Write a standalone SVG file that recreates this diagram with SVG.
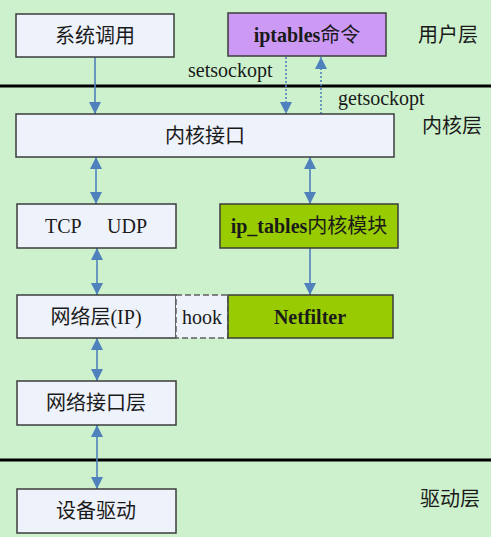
<svg xmlns="http://www.w3.org/2000/svg" width="491" height="537" viewBox="0 0 491 537">
<style>
text{font-family:"Liberation Serif","Noto Sans CJK SC",serif;font-size:20px;fill:#1a1a1a}
.c{text-anchor:middle}
.b{font-weight:bold}
.n{font-weight:normal}
.box{fill:#eef2fb;stroke:#3c3c3c;stroke-width:1.5}
.purple{fill:#cc99f5;stroke:#3c3c3c;stroke-width:1.5}
.green{fill:#99cc00;stroke:#3c3c3c;stroke-width:1.5}
.hook{fill:#eef2fb;stroke:#606060;stroke-width:1.5;stroke-dasharray:6,3}
.sep{stroke:#000;stroke-width:3}
.ar{stroke:#4f81bd;stroke-width:1.6;fill:none}
.dash{stroke-dasharray:2,2}
</style>
<defs>
<marker id="ah" markerUnits="userSpaceOnUse" markerWidth="12" markerHeight="12" viewBox="0 0 10 10" refX="10" refY="5" orient="auto-start-reverse">
<path d="M0,0 L10,5 L0,10 z" fill="#4f81bd"/>
</marker>
</defs>
<rect x="0" y="0" width="491" height="537" fill="#cdf1cd"/>
<line class="sep" x1="0" y1="86" x2="491" y2="86"/>
<line class="sep" x1="0" y1="460" x2="491" y2="460"/>
<g id="layer-labels">
<text x="418" y="42">用户层</text>
<text x="422" y="133">内核层</text>
<text x="420" y="506">驱动层</text>
</g>
<g id="connectors">
<line class="ar" x1="95" y1="57" x2="95" y2="114" marker-end="url(#ah)"/>
<line class="ar dash" x1="286" y1="57" x2="286" y2="114" marker-end="url(#ah)"/>
<line class="ar dash" x1="321" y1="114" x2="321" y2="57" marker-end="url(#ah)"/>
<line class="ar" x1="96" y1="157" x2="96" y2="204" marker-start="url(#ah)" marker-end="url(#ah)"/>
<line class="ar" x1="310" y1="157" x2="310" y2="204" marker-start="url(#ah)" marker-end="url(#ah)"/>
<line class="ar" x1="310" y1="248" x2="310" y2="295" marker-end="url(#ah)"/>
<line class="ar" x1="97" y1="248" x2="97" y2="295" marker-start="url(#ah)" marker-end="url(#ah)"/>
<line class="ar" x1="97" y1="338" x2="97" y2="381" marker-start="url(#ah)" marker-end="url(#ah)"/>
<line class="ar" x1="97" y1="425" x2="97" y2="489" marker-start="url(#ah)" marker-end="url(#ah)"/>
<text x="188" y="77">setsockopt</text>
<text x="338" y="105">getsockopt</text>
</g>
<g id="syscall">
<rect class="box" x="16" y="14" width="158" height="43"/>
<text class="c" x="95" y="42.5">系统调用</text>
</g>
<g id="iptables-cmd">
<rect class="purple" x="228" y="13" width="158" height="43"/>
<text class="c b" x="307" y="42">iptables<tspan class="n">命令</tspan></text>
</g>
<g id="kernel-if">
<rect class="box" x="16" y="114" width="378" height="43"/>
<text class="c" x="205" y="142.5">内核接口</text>
</g>
<g id="tcpudp">
<rect class="box" x="17" y="204" width="159" height="44"/>
<text x="45" y="233">TCP</text>
<text x="107" y="233">UDP</text>
</g>
<g id="ip-tables-mod">
<rect class="green" x="220" y="204" width="178" height="44"/>
<text class="c b" x="309" y="233">ip_tables<tspan class="n">内核模块</tspan></text>
</g>
<g id="network">
<rect class="box" x="17" y="295" width="159" height="43"/>
<text class="c" x="96" y="323.5">网络层(IP)</text>
</g>
<g id="hook">
<rect class="hook" x="176" y="295" width="52" height="43"/>
<text class="c" x="202" y="323.5">hook</text>
</g>
<g id="netfilter">
<rect class="green" x="228" y="295" width="165" height="43"/>
<text class="c b" x="310" y="323.5">Netfilter</text>
</g>
<g id="netif">
<rect class="box" x="17" y="381" width="159" height="44"/>
<text class="c" x="96" y="410">网络接口层</text>
</g>
<g id="driver">
<rect class="box" x="17" y="489" width="159" height="44"/>
<text class="c" x="96" y="518">设备驱动</text>
</g>
</svg>
